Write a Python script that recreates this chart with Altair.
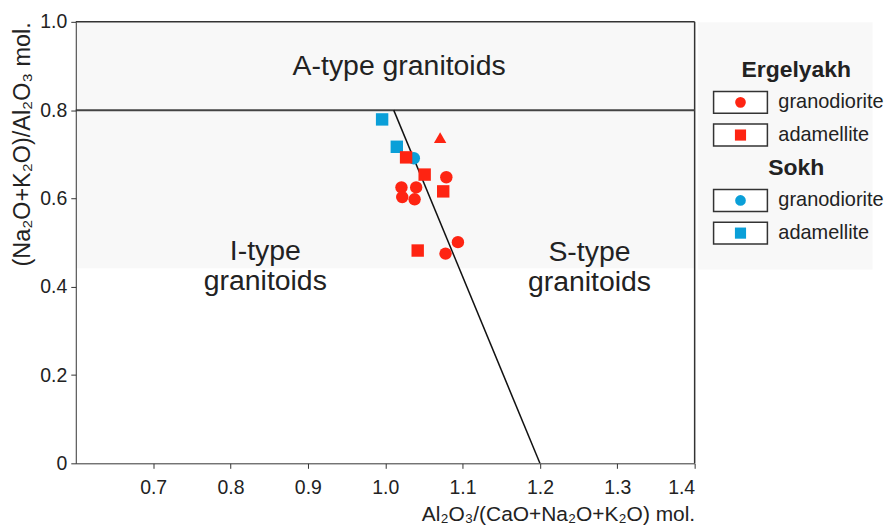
import altair as alt
import pandas as pd

# ---- data ----
erg_gd_x = [1.079, 1.021, 1.040, 1.022, 1.038, 1.094, 1.078]
erg_gd_y = [0.648, 0.625, 0.625, 0.603, 0.598, 0.501, 0.475]
erg_ad_x = [1.027, 1.051, 1.075, 1.042]
erg_ad_y = [0.693, 0.654, 0.616, 0.482]
erg_tri_x = [1.071]
erg_tri_y = [0.738]
sokh_gd_x = [1.037]
sokh_gd_y = [0.691]
sokh_ad_x = [0.996, 1.015]
sokh_ad_y = [0.779, 0.717]

boundary_x = [1.2, 1.011]
boundary_y = [0.0, 0.8]
a_type_limit = 0.8
shade_bottom = 0.442

x_ticks = [0.7, 0.8, 0.9, 1.0, 1.1, 1.2, 1.3, 1.4]
y_ticks = [0, 0.2, 0.4, 0.6, 0.8, 1.0]

RED = "#fe2412"
BLUE = "#0a9fd8"
INK = "#222222"
SHADE = "#f8f8f8"
FONT = "Liberation Sans"

rows = []
for xs_, ys_, grp, kind in [
    (sokh_ad_x, sokh_ad_y, "Sokh", "square"),
    (sokh_gd_x, sokh_gd_y, "Sokh", "circle"),
    (erg_gd_x, erg_gd_y, "Ergelyakh", "circle"),
    (erg_ad_x, erg_ad_y, "Ergelyakh", "square"),
    (erg_tri_x, erg_tri_y, "Ergelyakh", "triangle-up"),
]:
    for x, y in zip(xs_, ys_):
        rows.append({"x": x, "y": y, "group": grp, "kind": kind})
pts = pd.DataFrame(rows)
pts["ord"] = range(len(pts))

xs = alt.Scale(domain=[0.6, 1.4], nice=False, zero=False)
ys = alt.Scale(domain=[0, 1.0], nice=False)

x_axis = alt.Axis(values=x_ticks, format=".1f", grid=False, tickSize=5,
                  labelFontSize=19.5, labelPadding=10, labelColor=INK,
                  title="Al₂O₃/(CaO+Na₂O+K₂O) mol.", titleAnchor="end",
                  titleFontSize=21, titleFontWeight="normal", titleColor=INK,
                  titlePadding=7, domainColor="#333", tickColor="#333", zindex=1)
y_axis = alt.Axis(values=y_ticks, grid=False, tickSize=5,
                  labelExpr="datum.value == 0 ? '0' : format(datum.value, '.1f')",
                  labelFontSize=19.5, labelPadding=4, labelColor=INK,
                  title="(Na₂O+K₂O)/Al₂O₃ mol.", titleAnchor="end",
                  titleFontSize=23.5, titleFontWeight="normal", titleColor=INK,
                  titlePadding=5.5, domainColor="#333", tickColor="#333", zindex=1)

# faint shading of the upper part of the plot (scan background)
bg = alt.Chart(pd.DataFrame({"y": [shade_bottom]})).mark_rect(color=SHADE).encode(
    y=alt.Y("y:Q", scale=ys, axis=y_axis), y2=alt.value(0),
    x=alt.value(0), x2=alt.value(621))

# top and right frame lines
frame_top = alt.Chart(pd.DataFrame({"y": [1.0]})).mark_rule(color="#333", strokeWidth=1.5).encode(y="y:Q")
frame_right = alt.Chart(pd.DataFrame({"x": [1.4]})).mark_rule(color="#333", strokeWidth=1.5).encode(
    x=alt.X("x:Q", scale=xs, axis=x_axis))

base_rule = alt.Chart(pd.DataFrame({"y": [a_type_limit]})).mark_rule(
    color="#444", strokeWidth=2).encode(y="y:Q")

bline = alt.Chart(pd.DataFrame({"x": boundary_x, "y": boundary_y})).mark_line(
    color="#111", strokeWidth=1.5).encode(x="x:Q", y="y:Q")

points = alt.Chart(pts).mark_point(filled=True, opacity=1, size=155).encode(
    x="x:Q", y="y:Q",
    shape=alt.Shape("kind:N", scale=alt.Scale(domain=["circle", "square", "triangle-up"],
                                               range=["circle", "square", "triangle-up"]), legend=None),
    color=alt.Color("group:N", scale=alt.Scale(domain=["Ergelyakh", "Sokh"], range=[RED, BLUE]), legend=None),
    order="ord:Q",
)

labels = pd.DataFrame({
    "x": [1.018, 0.845, 1.264],
    "y": [0.90, 0.481, 0.479],
    "t": [["A-type granitoids"], ["I-type", "granitoids"], ["S-type", "granitoids"]],
})
texts = alt.Chart(labels).mark_text(font=FONT, fontSize=28.5, color=INK, lineHeight=30,
                                     baseline="middle").encode(x="x:Q", y="y:Q", text="t")

main = alt.layer(bg, frame_top, frame_right, base_rule, bline, points, texts).properties(
    width=621, height=443,
    view=alt.ViewBackground(stroke="transparent"))

# ---- legend panel ----
leg = pd.DataFrame({
    "row": [0, 1, 2, 3, 4, 5],
    "label": ["Ergelyakh", "granodiorite", "adamellite", "Sokh", "granodiorite", "adamellite"],
    "kind": ["head", "circle", "square", "head", "circle", "square"],
    "group": ["Ergelyakh", "Ergelyakh", "Ergelyakh", "Sokh", "Sokh", "Sokh"],
})
ly = alt.Y("row:O", scale=alt.Scale(type="point", padding=0, range=[48, 212]), axis=None)
items = leg[leg.kind != "head"]
heads = leg[leg.kind == "head"]

box = alt.Chart(items).mark_point(
    shape="M-1,-0.407L1,-0.407L1,0.407L-1,0.407Z", size=2916, filled=False,
    stroke="#333", strokeWidth=1.5, fill="white", fillOpacity=1, opacity=1).encode(
    x=alt.value(43), y=ly)
sym = alt.Chart(items).mark_point(filled=True, opacity=1).encode(
    x=alt.value(43), y=ly,
    shape=alt.Shape("kind:N", scale=alt.Scale(domain=["circle", "square"], range=["circle", "square"]), legend=None),
    size=alt.Size("kind:N", scale=alt.Scale(domain=["circle", "square"], range=[115, 125]), legend=None),
    color=alt.Color("group:N", scale=alt.Scale(domain=["Ergelyakh", "Sokh"], range=[RED, BLUE]), legend=None),
)
itxt = alt.Chart(items).mark_text(font=FONT, fontSize=20, color=INK, align="left",
                                  baseline="middle").encode(x=alt.value(81), y=ly, text="label:N")
htxt = alt.Chart(heads).mark_text(font=FONT, fontSize=23, fontWeight="bold", color=INK,
                                  align="center", baseline="middle").encode(
    x=alt.value(99), y=ly, text="label:N")

legend = alt.layer(box, sym, itxt, htxt).properties(
    width=175, height=248,
    view=alt.ViewBackground(stroke="transparent", fill=SHADE))

chart = alt.hconcat(main, legend, spacing=0).properties(
    padding={"left": 1, "top": 2, "right": 0, "bottom": 0}
).configure_view(stroke="transparent").configure(font=FONT)

chart.save("out.html", embed_options={"renderer": "svg", "actions": False})
